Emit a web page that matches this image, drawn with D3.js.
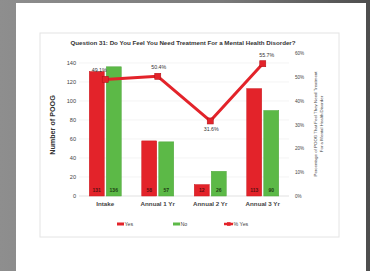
<!DOCTYPE html>
<html lang="en">
<head>
<meta charset="UTF-8">
<script src="https://d3js.org/d3.v7.min.js"></script>
<style>
    body { margin: 0; overflow: hidden; background: linear-gradient(to right, #8e8e8e 0%, #7a7a7a 60%, #4e4e4e 100%); }
    text { font-family: "Liberation Sans", Arial, sans-serif; }
</style>
</head>
<body>
<svg id="chart" width="370" height="271"></svg>
<script>
    // data
    const categories = ["Intake", "Annual 1 Yr", "Annual 2 Yr", "Annual 3 Yr"];
    const yesValues = [131, 58, 12, 113];
    const noValues = [136, 57, 26, 90];
    const pctYes = [0.491, 0.504, 0.316, 0.557];
    const pctLabels = ["49.1%", "50.4%", "31.6%", "55.7%"];
    const leftTicks = [0, 20, 40, 60, 80, 100, 120, 140];
    const rightTicks = [0, 0.1, 0.2, 0.3, 0.4, 0.5, 0.6];

    const red = "#e3232a", green = "#5cb947";
    const svg = d3.select("#chart");

    // white card + chart frame
    svg.append("rect").attr("x", 16).attr("y", 3).attr("width", 350).attr("height", 268).attr("fill", "#fff");
    svg.append("rect").attr("x", 40).attr("y", 33).attr("width", 299).attr("height", 204)
        .attr("fill", "#fff").attr("stroke", "#e4e4e4").attr("stroke-width", 1);

    const plot = {left: 79, right: 289, top: 53.5, bottom: 196};

    const x = d3.scaleBand().domain(categories).range([plot.left, plot.right]);
    const xs = d3.scaleBand().domain(["Yes", "No"]).range([0, 32]).paddingInner(0.12);
    const y = d3.scaleLinear().domain([0, 150]).range([plot.bottom, plot.top]);
    const y2 = d3.scaleLinear().domain([0, 0.6]).range([plot.bottom, plot.top]);

    // gridlines
    svg.append("g").selectAll("line").data(leftTicks.slice(1)).join("line")
        .attr("x1", plot.left).attr("x2", plot.right)
        .attr("y1", d => y(d)).attr("y2", d => y(d))
        .attr("stroke", "#ececec").attr("stroke-width", 0.6);
    svg.append("line").attr("x1", plot.left).attr("x2", plot.right)
        .attr("y1", y(0)).attr("y2", y(0)).attr("stroke", "#d9d9d9").attr("stroke-width", 0.8);

    // left axis
    const gl = svg.append("g").attr("transform", `translate(${plot.left - 3},0)`)
        .call(d3.axisLeft(y).tickValues(leftTicks).tickSize(0).tickPadding(0));
    gl.select(".domain").remove();
    gl.selectAll("text").attr("font-size", 5.6).attr("fill", "#444").attr("font-family", "Liberation Sans, Arial");

    // right axis
    const gr = svg.append("g").attr("transform", `translate(${plot.right + 6},0)`)
        .call(d3.axisRight(y2).tickValues(rightTicks).tickFormat(d3.format(".0%")).tickSize(0).tickPadding(0));
    gr.select(".domain").remove();
    gr.selectAll("text").attr("font-size", 4.6).attr("fill", "#444").attr("font-family", "Liberation Sans, Arial");

    // bottom axis labels
    const gb = svg.append("g").attr("transform", `translate(0,${plot.bottom + 6})`)
        .call(d3.axisBottom(x).tickSize(0).tickPadding(0));
    gb.select(".domain").remove();
    gb.selectAll("text").attr("font-size", 6.2).attr("font-weight", "bold").attr("fill", "#444")
        .attr("font-family", "Liberation Sans, Arial");

    // bars
    const rows = categories.map((c, i) => ({cat: c, Yes: yesValues[i], No: noValues[i]}));
    const groups = svg.append("g").selectAll("g").data(rows).join("g")
        .attr("transform", d => `translate(${x(d.cat) + x.bandwidth() / 2 - 16},0)`);
    groups.selectAll("rect").data(d => ["Yes", "No"].map(k => ({key: k, value: d[k]}))).join("rect")
        .attr("x", d => xs(d.key))
        .attr("y", d => y(d.value))
        .attr("width", xs.bandwidth())
        .attr("height", d => y(0) - y(d.value))
        .attr("fill", d => d.key === "Yes" ? red : green)
        .attr("stroke", d => d.key === "Yes" ? "#c9181e" : "#4ea63b").attr("stroke-width", 0.5);
    groups.selectAll("text").data(d => ["Yes", "No"].map(k => ({key: k, value: d[k]}))).join("text")
        .attr("x", d => xs(d.key) + xs.bandwidth() / 2)
        .attr("y", y(0) - 4)
        .attr("text-anchor", "middle")
        .attr("font-size", 5).attr("font-weight", "bold").attr("fill", d => d.key === "Yes" ? "#5a1010" : "#1e3d12")
        .text(d => d.value);

    // % Yes line
    const pts = categories.map((c, i) => ({cat: c, v: pctYes[i], label: pctLabels[i]}));
    const line = d3.line().x(d => x(d.cat) + x.bandwidth() / 2).y(d => y2(d.v));
    svg.append("path").datum(pts).attr("d", line)
        .attr("fill", "none").attr("stroke", red).attr("stroke-width", 3).attr("stroke-linejoin", "round");
    svg.append("g").selectAll("rect").data(pts).join("rect")
        .attr("x", d => x(d.cat) + x.bandwidth() / 2 - 3)
        .attr("y", d => y2(d.v) - 3)
        .attr("width", 6).attr("height", 6)
        .attr("fill", red).attr("stroke", "#b5141a").attr("stroke-width", 0.6);
    svg.append("g").selectAll("text").data(pts).join("text")
        .attr("x", (d, i) => x(d.cat) + x.bandwidth() / 2 + (i === 0 ? -6 : i === 3 ? 4 : 1))
        .attr("y", (d, i) => i === 2 ? y2(d.v) + 10 : y2(d.v) - 7)
        .attr("text-anchor", "middle")
        .attr("font-size", 5.3).attr("fill", "#333")
        .text(d => d.label);

    // titles
    svg.append("text").attr("x", 183).attr("y", 45).attr("text-anchor", "middle")
        .attr("font-size", 6.2).attr("font-weight", "bold").attr("fill", "#333")
        .text("Question 31:  Do You Feel You Need Treatment For a Mental Health Disorder?");
    svg.append("text").attr("transform", "translate(55,125) rotate(-90)").attr("text-anchor", "middle")
        .attr("font-size", 7.2).attr("font-weight", "bold").attr("fill", "#333")
        .text("Number  of POOG");
    const rt = svg.append("text").attr("transform", "translate(317,124) rotate(-90)").attr("text-anchor", "middle")
        .attr("font-size", 4.4).attr("fill", "#444");
    rt.append("tspan").attr("x", 0).attr("dy", 0).text("Percentage of POOG That Feel They Need Treatment");
    rt.append("tspan").attr("x", 0).attr("dy", 5.5).text("For a Mental Health Disorder");

    // legend
    const legend = [
        {label: "Yes", x: 117, type: "bar", color: red},
        {label: "No", x: 173, type: "bar", color: green},
        {label: "% Yes", x: 224, type: "line", color: red}
    ];
    const lg = svg.append("g").attr("transform", "translate(0,224)");
    legend.forEach(l => {
        if (l.type === "bar") {
            lg.append("rect").attr("x", l.x).attr("y", -1.5).attr("width", 7).attr("height", 3).attr("fill", l.color);
        } else {
            lg.append("line").attr("x1", l.x).attr("x2", l.x + 9).attr("y1", 0).attr("y2", 0)
                .attr("stroke", l.color).attr("stroke-width", 2.5);
            lg.append("rect").attr("x", l.x + 3).attr("y", -1.8).attr("width", 3.6).attr("height", 3.6).attr("fill", l.color);
        }
        lg.append("text").attr("x", l.x + (l.type === "bar" ? 7.5 : 9.5)).attr("y", 1.8)
            .attr("font-size", 5.3).attr("fill", "#444").text(l.label);
    });
</script>
</body>
</html>
